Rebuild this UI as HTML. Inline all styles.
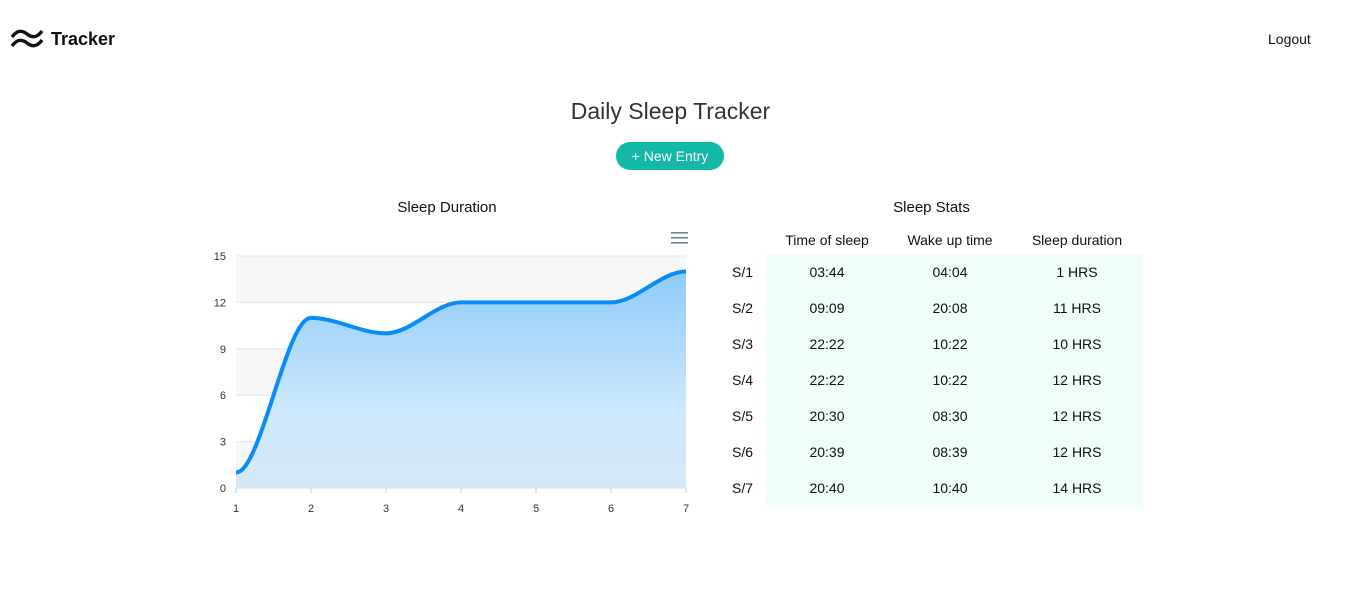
<!DOCTYPE html>
<html><head><meta charset="utf-8"><style>
body{margin:0;width:1347px;height:608px;background:#fff;font-family:"Liberation Sans",sans-serif;position:relative;overflow:hidden;color:#111}
.abs{position:absolute}
table{border-collapse:collapse;position:absolute;left:720px;top:226px;font-size:14px}
td,th{font-weight:normal;text-align:center;height:36px;padding:0}
th{height:28px}
td.c{background:#f0fdfa}
</style></head><body>
<svg class="abs" style="left:10px;top:29px" width="34" height="20" viewBox="0 0 34 20"><path d="M2 8 C7 1,12 1,17 5 S27 9,32 2" stroke="#111" stroke-width="3.4" fill="none"/><path d="M2 17 C7 10,12 10,17 14 S27 18,32 11" stroke="#111" stroke-width="3.4" fill="none"/></svg>
<div class="abs" style="left:51px;top:29px;font-size:18px;font-weight:bold;color:#111">Tracker</div>
<div class="abs" style="left:1268px;top:31px;font-size:14px">Logout</div>
<div class="abs" style="left:0;width:1341px;top:98px;text-align:center;font-size:23px;color:#333">Daily Sleep Tracker</div>
<div class="abs" style="left:616px;top:142px;width:108px;height:28px;border-radius:14px;background:#14b8a6;color:#fff;font-size:14px;line-height:28px;text-align:center">+ New Entry</div>
<div class="abs" style="left:236px;width:422px;top:199px;text-align:center;font-size:15px">Sleep Duration</div>
<div class="abs" style="left:720px;width:423px;top:199px;text-align:center;font-size:15px">Sleep Stats</div>
<svg class="abs" style="left:0;top:0" width="700" height="530" id="chart">
<defs><linearGradient id="g" x1="0" y1="0" x2="0" y2="1"><stop offset="0" stop-color="#8ecbfa"/><stop offset="0.65" stop-color="#cde8fd"/><stop offset="1" stop-color="#d6e8f6"/></linearGradient></defs>
<g id="menu"><rect x="671" y="232" width="17" height="1.6" fill="#6e8192"/><rect x="671" y="237" width="17" height="1.6" fill="#6e8192"/><rect x="671" y="242" width="17" height="1.6" fill="#6e8192"/></g>
</svg>
<table>
<tr><th style="width:45px"></th><th style="width:124px">Time of sleep</th><th style="width:122px">Wake up time</th><th style="width:132px">Sleep duration</th></tr>
<tr><td>S/1</td><td class="c">03:44</td><td class="c">04:04</td><td class="c">1 HRS</td></tr>
<tr><td>S/2</td><td class="c">09:09</td><td class="c">20:08</td><td class="c">11 HRS</td></tr>
<tr><td>S/3</td><td class="c">22:22</td><td class="c">10:22</td><td class="c">10 HRS</td></tr>
<tr><td>S/4</td><td class="c">22:22</td><td class="c">10:22</td><td class="c">12 HRS</td></tr>
<tr><td>S/5</td><td class="c">20:30</td><td class="c">08:30</td><td class="c">12 HRS</td></tr>
<tr><td>S/6</td><td class="c">20:39</td><td class="c">08:39</td><td class="c">12 HRS</td></tr>
<tr><td>S/7</td><td class="c">20:40</td><td class="c">10:40</td><td class="c">14 HRS</td></tr>
</table>
<script>
const categories=[1,2,3,4,5,6,7];
const values=[1,11,10,12,12,12,14];
const yTicks=[0,3,6,9,12,15];
const NS="http://www.w3.org/2000/svg";
const svg=document.getElementById('chart');
const X0=236,X1=686,Y0=488,Y1=256;
const x=v=>X0+(v-categories[0])/(categories[categories.length-1]-categories[0])*(X1-X0);
const y=v=>Y0-(v/15)*(Y0-Y1);
function mk(t,a){const e=document.createElementNS(NS,t);for(const k in a)e.setAttribute(k,a[k]);svg.insertBefore(e,document.getElementById('menu'));return e;}
for(let i=0;i<yTicks.length-1;i++){
 if(i%2===0){const b=mk('rect',{x:X0,y:y(yTicks[i+1]),width:X1-X0,height:y(yTicks[i])-y(yTicks[i+1]),fill:'#f7f7f7'});
 
 }
}
yTicks.forEach(t=>{
 const l=mk('line',{x1:X0,x2:X1,y1:y(t),y2:y(t),stroke:'#e5e5e5'});
 
 
 const tx=mk('text',{x:226,y:y(t)+4,'text-anchor':'end','font-size':11,fill:'#333'});tx.textContent=t;
 
 
});
const px=categories.map(x),py=values.map(y),n=px.length;
const d=[],m=[];
for(let i=0;i<n-1;i++)d.push((py[i+1]-py[i])/(px[i+1]-px[i]));
for(let i=0;i<n;i++){
 if(i===0||i===n-1)m.push(0);
 else m.push(d[i-1]*d[i]<=0?0:(d[i-1]+d[i])/2);
}
let p=`M${px[0]},${py[0]}`;
for(let i=0;i<n-1;i++){const h=(px[i+1]-px[i])/3;p+=` C${px[i]+h},${py[i]+m[i]*h} ${px[i+1]-h},${py[i+1]-m[i+1]*h} ${px[i+1]},${py[i+1]}`;}
const area=mk('path',{d:p+` L${X1},${Y0} L${X0},${Y0} Z`,fill:'url(#g)'});


const ax=mk('line',{x1:X0,x2:X1,y1:Y0,y2:Y0,stroke:'#ddd'});


const line=mk('path',{d:p,fill:'none',stroke:'#0a8cf7','stroke-width':4});


categories.forEach(c=>{
 const tk=mk('line',{x1:x(c),x2:x(c),y1:Y0,y2:Y0+5,stroke:'#ccc'});
 
 
 const tx=mk('text',{x:x(c),y:512,'text-anchor':'middle','font-size':11,fill:'#333'});tx.textContent=c;
 
 
});
</script>
</body></html>
